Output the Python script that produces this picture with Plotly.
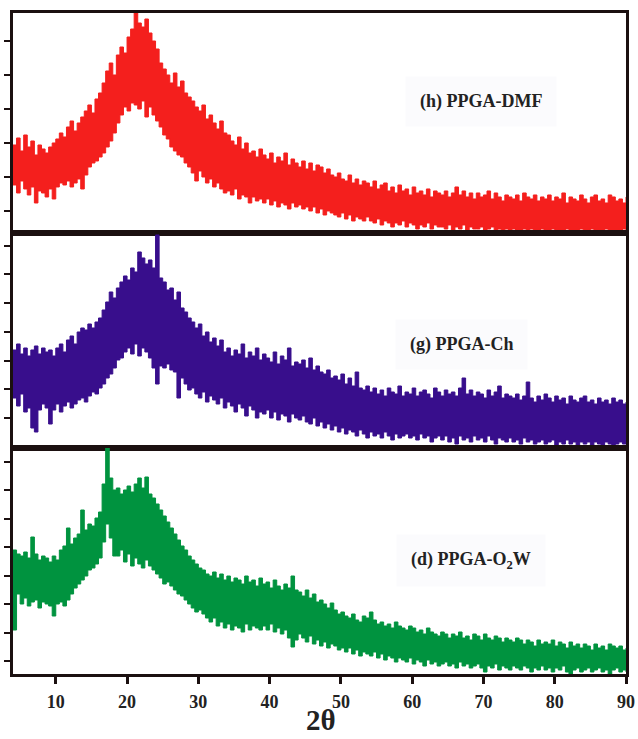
import numpy as np
import plotly.graph_objects as go

# 2-theta grid (degrees), step 0.5
two_theta = np.arange(4.0, 90.01, 0.5)

# Intensity envelopes (a.u.): upper / lower edge of the noisy band
dmf_upper = [
    88, 95, 82, 98, 86, 92, 78, 88, 84, 80,
    86, 90, 94, 100, 96, 106, 112, 102, 110, 116,
    122, 128, 120, 134, 140, 150, 162, 170, 158, 178,
    186, 180, 196, 204, 220, 210, 206, 214, 200, 192,
    184, 170, 164, 158, 150, 160, 146, 152, 140, 136,
    132, 126, 122, 128, 114, 118, 110, 104, 112, 100,
    98, 92, 88, 96, 84, 90, 80, 82, 76, 84,
    78, 74, 80, 70, 76, 72, 80, 68, 74, 70,
    66, 72, 64, 70, 62, 68, 66, 60, 64, 58,
    56, 60, 54, 52, 58, 50, 54, 48, 52, 50,
    46, 52, 44, 48, 50, 42, 46, 40, 48, 42,
    44, 38, 46, 40, 42, 38, 44, 36, 42, 40,
    38, 42, 36, 40, 46, 38, 42, 36, 40, 34,
    40, 36, 38, 42, 34, 40, 36, 32, 38, 36,
    34, 38, 32, 40, 36, 34, 38, 32, 36, 34,
    38, 32, 36, 34, 40, 30, 36, 34, 32, 38,
    34, 30, 36, 38, 32, 34, 30, 38, 36, 32,
    34, 30, 36,
]
dmf_lower = [
    48, 40, 52, 44, 38, 46, 30, 42, 40, 36,
    44, 34, 46, 50, 48, 52, 46, 50, 54, 44,
    58, 66, 70, 72, 76, 80, 86, 92, 100, 110,
    118, 126, 122, 130, 128, 124, 132, 116, 126, 118,
    112, 106, 98, 94, 86, 82, 78, 76, 70, 66,
    60, 52, 62, 56, 50, 54, 46, 50, 44, 40,
    42, 38, 44, 34, 38, 36, 30, 36, 32, 34,
    30, 34, 28, 32, 26, 30, 28, 24, 30, 26,
    28, 24, 26, 22, 26, 20, 24, 18, 22, 20,
    18, 16, 20, 14, 18, 12, 16, 14, 12, 16,
    12, 10, 14, 8, 12, 10, 6, 10, 8, 12,
    6, 10, 8, 4, 8, 6, 10, 4, 8, 6,
    6, 4, 8, 2, 6, 4, 8, 2, 6, 4,
    4, 6, 2, 4, 6, 2, 4, 0, 4, 2,
    4, 2, 0, 4, 2, 4, 0, 2, 4, 2,
    0, 4, 2, 0, 2, 4, 2, 0, 2, 4,
    2, 0, 4, 2, 0, 2, 4, 0, 2, 0,
    2, 4, 2,
]
ch_upper = [
    98, 104, 94, 100, 92, 98, 102, 94, 100, 96,
    98, 92, 100, 104, 96, 108, 112, 104, 116, 120,
    118, 124, 120, 126, 130, 138, 146, 156, 150, 160,
    166, 172, 168, 180, 176, 196, 190, 184, 188, 180,
    213, 170, 166, 158, 160, 148, 156, 140, 136, 130,
    126, 120, 124, 112, 116, 106, 110, 102, 108, 96,
    100, 92, 98, 94, 104, 90, 96, 92, 100, 88,
    94, 90, 86, 96, 84, 92, 88, 100, 82, 86,
    84, 88, 80, 90, 78, 82, 76, 74, 78, 70,
    72, 68, 74, 64, 70, 62, 76, 60, 58, 62,
    56, 60, 54, 58, 52, 60, 56, 54, 62, 52,
    56, 54, 60, 52, 56, 58, 54, 50, 60, 56,
    52, 58, 54, 56, 52, 60, 70, 54, 58, 52,
    56, 54, 50, 58, 52, 56, 62, 50, 54, 52,
    50, 54, 48, 52, 66, 50, 46, 52, 48, 54,
    50, 46, 52, 48, 50, 44, 52, 48, 46, 50,
    52, 46, 48, 44, 50, 46, 48, 44, 50, 46,
    48, 44, 46,
]
ch_lower = [
    50, 42, 54, 36, 40, 20, 16, 38, 44, 40,
    24, 38, 44, 36, 42, 46, 40, 44, 48, 50,
    46, 52, 56, 54, 60, 64, 70, 74, 80, 88,
    90, 96, 100, 94, 104, 92, 100, 96, 90, 80,
    64, 82, 80, 84, 78, 76, 50, 70, 64, 58,
    60, 54, 50, 56, 46, 52, 48, 44, 50, 40,
    46, 42, 36, 44, 40, 32, 42, 38, 30, 36,
    34, 38, 30, 36, 28, 34, 32, 26, 34, 30,
    28, 32, 26, 24, 30, 22, 26, 20, 24, 18,
    22, 16, 20, 14, 18, 16, 12, 18, 14, 10,
    16, 12, 14, 10, 16, 12, 8, 14, 10, 12,
    14, 10, 12, 8, 14, 10, 12, 6, 10, 12,
    8, 12, 6, 10, 4, 12, 8, 10, 6, 12,
    8, 10, 6, 12, 8, 4, 10, 8, 6, 10,
    6, 8, 4, 10, 6, 8, 4, 6, 8, 4,
    6, 8, 2, 6, 4, 8, 4, 6, 2, 6,
    4, 6, 2, 6, 4, 2, 6, 4, 2, 4,
    6, 4, 6,
]
o2w_upper = [
    124, 120, 118, 122, 116, 137, 120, 114, 118, 116,
    112, 118, 114, 124, 128, 146, 130, 136, 140, 164,
    144, 150, 148, 156, 162, 190, 227, 196, 184, 186,
    180, 184, 188, 182, 190, 196, 186, 197, 180, 176,
    170, 164, 158, 152, 146, 140, 134, 128, 124, 118,
    114, 110, 106, 104, 100, 98, 102, 96, 100, 94,
    98, 92, 96, 94, 90, 98, 92, 94, 88, 96,
    90, 92, 86, 94, 88, 84, 90, 86, 98, 84,
    82, 78, 84, 76, 80, 72, 74, 70, 66, 71,
    64, 60, 62, 58, 56, 60, 54, 52, 58, 56,
    62, 54, 50, 52, 48, 50, 46, 52, 48, 46,
    44, 48, 46, 42, 44, 40, 46, 42, 40, 38,
    42, 40, 36, 40, 38, 42, 36, 38, 34, 40,
    38, 34, 40, 36, 34, 38, 36, 32, 36, 34,
    32, 36, 34, 30, 34, 32, 28, 34, 30, 32,
    30, 34, 28, 32, 30, 26, 32, 28, 30, 26,
    30, 28, 24, 30, 26, 28, 24, 30, 28, 26,
    28, 24, 26,
]
o2w_lower = [
    44, 80, 70, 76, 68, 72, 74, 66, 72, 70,
    68, 58, 70, 72, 68, 74, 80, 86, 90, 94,
    98, 104, 106, 110, 116, 132, 150, 136, 118, 118,
    124, 112, 120, 108, 116, 110, 106, 114, 108, 104,
    100, 96, 90, 92, 88, 84, 80, 78, 74, 70,
    66, 62, 64, 60, 56, 52, 56, 48, 52, 46,
    50, 44, 48, 46, 42, 50, 44, 48, 46, 44,
    48, 44, 50, 42, 46, 40, 44, 36, 27, 34,
    40, 36, 32, 38, 30, 34, 28, 32, 26, 30,
    28, 24, 26, 22, 26, 20, 24, 18, 22, 20,
    18, 22, 16, 20, 14, 18, 16, 12, 16, 14,
    12, 16, 10, 14, 12, 8, 14, 10, 12, 8,
    10, 12, 8, 10, 6, 12, 8, 10, 6, 8,
    10, 6, 2, 8, 6, 10, 4, 8, 6, 4,
    8, 6, 4, 8, 6, 2, 6, 4, 8, 4,
    6, 2, 6, 4, 8, 2, 0, 4, 6, 2,
    4, 6, 2, 4, 6, 2, 4, 0, 4, 6,
    2, 4, 2,
]

panel_labels = ["<b>(h) PPGA-DMF</b>", "<b>(g) PPGA-Ch</b>", "<b>(d) PPGA-O<sub>2</sub>W</b>"]
x_tick_vals = [10, 20, 30, 40, 50, 60, 70, 80, 90]
x_tick_text = ["10", "20", "30", "40", "50", "60", "70", "80", "90"]
x_title = "<b>2θ</b>"

# per-panel y tick positions (a.u.) and y ranges
y_ticks = [
    [22, 56, 90, 124, 158, 192],
    [30, 58.7, 87.4, 116, 144.8, 173.5, 202],
    [13, 41.5, 70, 98.5, 127, 155.5, 184, 212.5],
]
y_ranges = [[0, 220], [0, 215], [0, 226]]
colors = ["#F41F1D", "#380E8C", "#00933F"]
uppers = [dmf_upper, ch_upper, o2w_upper]
lowers = [dmf_lower, ch_lower, o2w_lower]
label_pos = [(69.7, 131), (66.9, 103), (68.2, 114)]

# panel domains (top to bottom), in paper fraction
domains = [[0.6672, 1.0], [0.3419, 0.6672], [0.0, 0.3419]]

fig = go.Figure()
axis_color = "#1b1010"
for i in range(3):
    xa = "x" if i == 0 else f"x{i+1}"
    ya = "y" if i == 0 else f"y{i+1}"
    fig.add_trace(go.Scatter(
        x=two_theta, y=lowers[i], mode="lines", line=dict(color=colors[i], width=1, shape="hv"),
        xaxis=xa, yaxis=ya, showlegend=False, hoverinfo="skip"))
    fig.add_trace(go.Scatter(
        x=two_theta, y=uppers[i], mode="lines", line=dict(color=colors[i], width=1, shape="hv"),
        fill="tonexty", fillcolor=colors[i],
        xaxis=xa, yaxis=ya, showlegend=False, hoverinfo="skip"))
    lx, ly = label_pos[i]
    fig.add_annotation(
        x=lx, y=ly, xref=xa, yref=ya, text=panel_labels[i], showarrow=False,
        font=dict(family="Liberation Serif", size=18, color="#222222"),
        bgcolor="#fbfbfd", borderpad=14)

    last = (i == 2)
    xkey = "xaxis" if i == 0 else f"xaxis{i+1}"
    ykey = "yaxis" if i == 0 else f"yaxis{i+1}"
    xdict = dict(
        domain=[0, 1], anchor=ya, range=[4, 90], automargin=False,
        showline=True, linecolor=axis_color, linewidth=2.5, mirror=True,
        showgrid=False, zeroline=False,
        ticks="outside" if last else "", ticklen=7, tickwidth=2.5, tickcolor=axis_color,
        showticklabels=last,
    )
    if last:
        xdict.update(
            tickvals=x_tick_vals, ticktext=x_tick_text,
            ticklabelstandoff=3, ticklabeloverflow="allow",
            tickfont=dict(family="Liberation Serif", size=18, color="#222222", weight="bold"),
        )
    fig.update_layout(**{
        xkey: xdict,
        ykey: dict(
            domain=domains[i], anchor=xa, range=y_ranges[i], automargin=False,
            showline=True, linecolor=axis_color, linewidth=2.5, mirror=True,
            showgrid=False, zeroline=False,
            ticks="outside", ticklen=6, tickwidth=2, tickcolor=axis_color,
            tickvals=y_ticks[i], showticklabels=False,
        ),
    })

# x-axis title placed below the bottom panel
fig.add_annotation(
    x=0.502, y=-0.069, xref="paper", yref="paper", text=x_title, showarrow=False,
    xanchor="center", yanchor="middle",
    font=dict(family="Liberation Serif", size=29, color="#222222"))

fig.update_layout(
    width=638, height=739,
    margin=dict(l=13, r=12, t=13, b=65),
    paper_bgcolor="white", plot_bgcolor="white",
    showlegend=False,
)

fig.write_html("out.html", config={"displayModeBar": False},
               post_script="document.body.style.margin='0';document.body.style.overflow='hidden';")
